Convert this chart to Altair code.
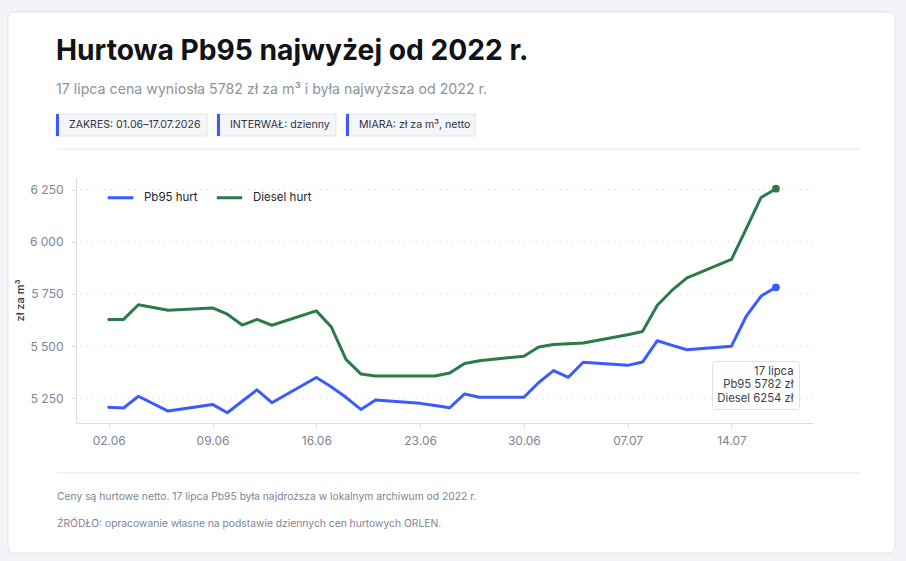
import altair as alt
import pandas as pd

# ---------------- data ----------------
dates = [
    "2026-06-02", "2026-06-03", "2026-06-04", "2026-06-06", "2026-06-09", "2026-06-10",
    "2026-06-11", "2026-06-12", "2026-06-13", "2026-06-16", "2026-06-17", "2026-06-18",
    "2026-06-19", "2026-06-20", "2026-06-23", "2026-06-24", "2026-06-25", "2026-06-26",
    "2026-06-27", "2026-06-30", "2026-07-01", "2026-07-02", "2026-07-03", "2026-07-04",
    "2026-07-07", "2026-07-08", "2026-07-09", "2026-07-10", "2026-07-11", "2026-07-14",
    "2026-07-15", "2026-07-16", "2026-07-17",
]
pb95 = [
    5207, 5204, 5260, 5189, 5221, 5181,
    5236, 5291, 5229, 5350, 5306, 5255,
    5197, 5242, 5226, 5216, 5205, 5271,
    5255, 5255, 5326, 5383, 5351, 5423,
    5408, 5424, 5526, 5504, 5483, 5500,
    5644, 5740, 5782,
]
diesel = [
    5628, 5628, 5698, 5672, 5683, 5653,
    5601, 5628, 5600, 5669, 5593, 5437,
    5367, 5357, 5357, 5357, 5371, 5417,
    5430, 5452, 5496, 5508, 5511, 5515,
    5555, 5570, 5696, 5768, 5827, 5915,
    6063, 6212, 6254,
]
series_names = ["Pb95 hurt", "Diesel hurt"]
series_colors = ["#3a5bff", "#2b7a4b"]
y_ticks = [5250, 5500, 5750, 6000, 6250]
x_ticks = ["2026-06-02", "2026-06-09", "2026-06-16", "2026-06-23", "2026-06-30",
           "2026-07-07", "2026-07-14"]

title_text = "Hurtowa Pb95 najwyżej od 2022 r."
subtitle_text = "17 lipca cena wyniosła 5782 zł za m³ i była najwyższa od 2022 r."
badges = ["ZAKRES: 01.06–17.07.2026", "INTERWAŁ: dzienny", "MIARA: zł za m³, netto"]
footer_note = "Ceny są hurtowe netto. 17 lipca Pb95 była najdroższa w lokalnym archiwum od 2022 r."
footer_source = "ŹRÓDŁO: opracowanie własne na podstawie dziennych cen hurtowych ORLEN."
y_title = "zł za m³"
ann_lines = ["17 lipca", f"Pb95 {pb95[-1]} zł", f"Diesel {diesel[-1]} zł"]

FONT = "Inter"

n = len(dates)
df = pd.DataFrame({
    "date": dates * 2,
    "series": [series_names[0]] * n + [series_names[1]] * n,
    "value": pb95 + diesel,
})
last = df[df["date"] == dates[-1]]
one = pd.DataFrame({"a": [0]})


def dt(s, hours=0):
    y, m, d = s.split("-")
    return alt.DateTime(year=int(y), month=int(m), date=int(d), hours=hours, utc=True)


x_scale = alt.Scale(type="utc", domain=[dt("2026-05-30", 19), dt("2026-07-19", 12)])
y_scale = alt.Scale(domain=[5132, 6310], nice=False, zero=False)
color_scale = alt.Scale(domain=series_names, range=series_colors)

AX = dict(domainColor="#d6dde8", tickColor="#d6dde8", tickSize=5, labelColor="#7b8494",
          labelFont=FONT, labelFontSize=12, grid=False, zindex=1)

y_axis = alt.Axis(values=y_ticks, labelExpr="replace(format(datum.value, ','), ',', ' ')",
                  labelPadding=8, titleX=-56, titleY=123, titleAngle=270,
                  titleAlign="center", titleBaseline="middle", titleFont=FONT,
                  titleFontSize=11, titleFontWeight=500, titleColor="#2f333b", **AX)
x_axis = alt.Axis(values=[dt(s) for s in x_ticks], format="%d.%m", labelPadding=7, **AX)

# ---------------- decorations ----------------
card = alt.Chart(one).mark_rect(fill="white", stroke="#dde3ec", strokeWidth=1, cornerRadius=6).encode(
    x=alt.value(-68), x2=alt.value(819), y=alt.value(-165), y2=alt.value(376))

seps = [
    alt.Chart(one).mark_rule(color="#e3e8ef", strokeWidth=1).encode(
        x=alt.value(-19), x2=alt.value(784), y=alt.value(yy))
    for yy in (-28, 296)
]

title = alt.Chart(one).mark_text(align="left", baseline="alphabetic", font=FONT, fontSize=28.2,
                                 fontWeight="bold", color="#111318").encode(
    x=alt.value(-20), y=alt.value(-117), text=alt.value(title_text))
subtitle = alt.Chart(one).mark_text(align="left", baseline="alphabetic", font=FONT, fontSize=14.2,
                                    color="#8d929c").encode(
    x=alt.value(-20), y=alt.value(-83), text=alt.value(subtitle_text))

badge_layers = []
badge_x = [(-20, 131), (141, 260), (270, 399)]
for (bx0, bx1), label in zip(badge_x, badges):
    badge_layers.append(alt.Chart(one).mark_rect(fill="#f4f6fa", stroke="#dfe4ee", strokeWidth=1).encode(
        x=alt.value(bx0), x2=alt.value(bx1), y=alt.value(-63), y2=alt.value(-41)))
    badge_layers.append(alt.Chart(one).mark_rect(fill="#3a5bff").encode(
        x=alt.value(bx0), x2=alt.value(bx0 + 3), y=alt.value(-63), y2=alt.value(-41)))
    badge_layers.append(alt.Chart(one).mark_text(align="left", baseline="middle", font=FONT,
                                                 fontSize=10.6, color="#30343c").encode(
        x=alt.value(bx0 + 13), y=alt.value(-52), text=alt.value(label)))

foot1 = alt.Chart(one).mark_text(align="left", baseline="middle", font=FONT, fontSize=10.3,
                                 color="#7d8593").encode(
    x=alt.value(-19), y=alt.value(320), text=alt.value(footer_note))
foot2 = alt.Chart(one).mark_text(align="left", baseline="middle", font=FONT, fontSize=10.3,
                                 color="#7d8593").encode(
    x=alt.value(-19), y=alt.value(347), text=alt.value(footer_source))

# ---------------- chart ----------------
grid = alt.Chart(pd.DataFrame({"v": y_ticks})).mark_rule(
    color="#cdd3dc", strokeWidth=1, strokeDash=[1, 5]).encode(
    y=alt.Y("v:Q", scale=y_scale, title=y_title, axis=y_axis))

lines = alt.Chart(df).mark_line(strokeWidth=3, strokeJoin="round", strokeCap="round").encode(
    x=alt.X("date:T", scale=x_scale, title=None, axis=x_axis),
    y=alt.Y("value:Q", scale=y_scale, title=y_title, axis=y_axis),
    color=alt.Color("series:N", scale=color_scale, title=None,
                    legend=alt.Legend(orient="none", legendX=30, legendY=6, direction="horizontal",
                                      symbolType="stroke", symbolStrokeWidth=3, symbolSize=650,
                                      labelFont=FONT, labelFontSize=11.5, labelColor="#22252b",
                                      labelOffset=9, columnPadding=12, padding=0)),
    order=alt.Order("date:T"),
)

points = alt.Chart(last).mark_circle(size=60, opacity=1).encode(
    x=alt.X("date:T", scale=x_scale, axis=x_axis),
    y=alt.Y("value:Q", scale=y_scale, title=y_title, axis=y_axis),
    color=alt.Color("series:N", scale=color_scale, legend=None),
)

ann_box = alt.Chart(one).mark_rect(fill="white", stroke="#dbe2ec", strokeWidth=1, cornerRadius=4).encode(
    x=alt.value(636.5), x2=alt.value(723.5), y=alt.value(184.5), y2=alt.value(232.5))
ann_text = [
    alt.Chart(one).mark_text(align="right", baseline="middle", font=FONT, fontSize=11.3,
                             color="#3a3f4a").encode(
        x=alt.value(717.5), y=alt.value(yy), text=alt.value(t))
    for t, yy in zip(ann_lines, (194.5, 207.5, 221.5))
]

chart = alt.layer(
    card, *seps, title, subtitle, *badge_layers, foot1, foot2,
    grid, lines, points, ann_box, *ann_text,
).properties(
    width=737, height=246,
    padding={"left": 76, "top": 177, "right": 93, "bottom": 138},
    autosize=alt.AutoSizeParams(type="none"),
    background="#f3f4f7",
).configure_view(strokeWidth=0)

chart.save("out.html", embed_options={"renderer": "svg", "actions": False})
